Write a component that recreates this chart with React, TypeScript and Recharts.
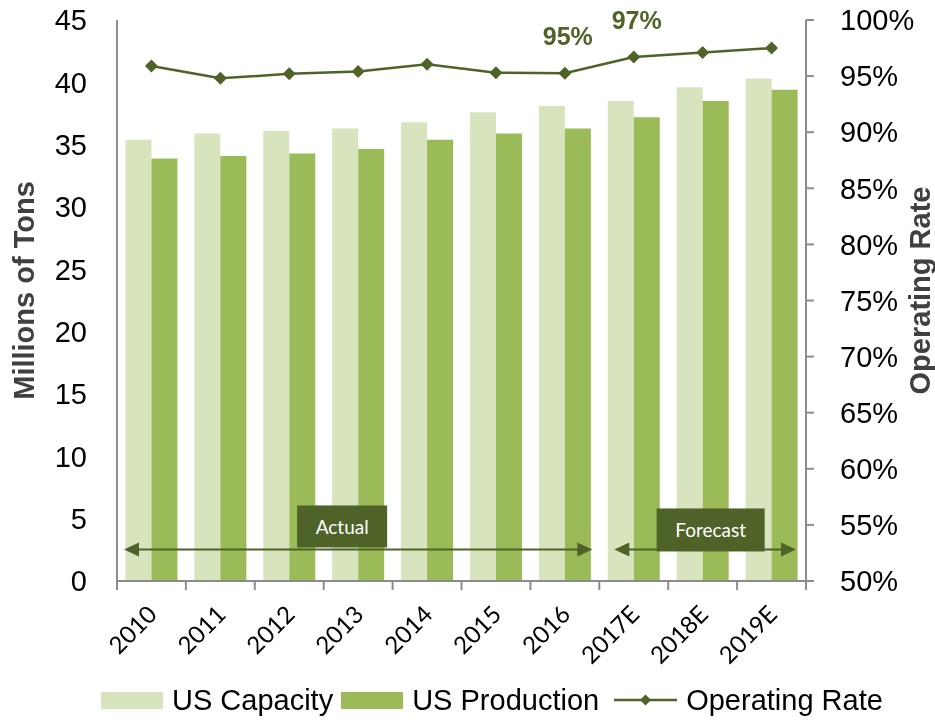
import React from 'react';
import {
  ComposedChart,
  Bar,
  Line,
  XAxis,
  YAxis,
  Legend,
  LabelList,
  ReferenceArea,
} from 'recharts';

const categories = ['2010', '2011', '2012', '2013', '2014', '2015', '2016', '2017E', '2018E', '2019E'];
const capacity = [35.4, 35.9, 36.1, 36.3, 36.8, 37.6, 38.1, 38.5, 39.6, 40.3];
const production = [33.9, 34.1, 34.3, 34.65, 35.4, 35.9, 36.3, 37.2, 38.5, 39.4];
const operatingRate = [95.9, 94.8, 95.2, 95.4, 96.05, 95.3, 95.25, 96.7, 97.1, 97.5];
const labeledYears = ['2016', '2017E'];
const leftTicks = [0, 5, 10, 15, 20, 25, 30, 35, 40, 45];
const rightTicks = [50, 55, 60, 65, 70, 75, 80, 85, 90, 95, 100];
const periods = [
  { label: 'Actual', from: '2010', to: '2016' },
  { label: 'Forecast', from: '2017E', to: '2019E' },
];
const arrowLevel = 2.53;

const data = categories.map((year, i) => ({
  year,
  capacity: capacity[i],
  production: production[i],
  rate: operatingRate[i],
}));

const CHART_W = 935;
const CHART_H = 720;
const LEFT_W = 117;
const RIGHT_W = 129;
const BAND = (CHART_W - LEFT_W - RIGHT_W) / categories.length;

const LIGHT = '#d7e4bd';
const MID = '#9bbb59';
const DARK = '#4f6228';
const AXIS = '#8c8c8c';
const FONT = '"Liberation Sans", Arial, sans-serif';

const periodStyle: Record<string, { insetL: number; insetR: number; boxDx: number; boxW: number; boxTop: number; boxBottom: number }> = {
  Actual: { insetL: 7, insetR: 7, boxDx: -16, boxW: 90, boxTop: -44, boxBottom: -2 },
  Forecast: { insetL: 15, insetR: 10, boxDx: 8, boxW: 108, boxTop: -41, boxBottom: 2 },
};

const XTick = (props: any) => {
  const { x, y, payload, index } = props;
  const half = BAND / 2;
  const tx = x + 7;
  const ty = y + 35;
  return (
    <g>
      <line x1={x - half} y1={y} x2={x - half} y2={y + 9} stroke={AXIS} strokeWidth={2} />
      {index === categories.length - 1 && (
        <line x1={x + half} y1={y} x2={x + half} y2={y + 9} stroke={AXIS} strokeWidth={2} />
      )}
      <text
        x={tx}
        y={ty}
        textAnchor="end"
        transform={`rotate(-45 ${tx} ${ty})`}
        fontFamily="Lato, sans-serif"
        fontSize={24}
        fill="#000"
      >
        {payload.value}
      </text>
    </g>
  );
};

const AxisTitle = (props: any) => {
  const { viewBox, side, text } = props;
  const { x, y, height } = viewBox;
  const cx = side === 'left' ? x + 24 : x + 114;
  const cy = y + height / 2 - 10;
  return (
    <text
      x={cx}
      y={cy}
      transform={`rotate(-90 ${cx} ${cy})`}
      textAnchor="middle"
      dominantBaseline="central"
      fontFamily={FONT}
      fontWeight="bold"
      fontSize={29}
      fill="#404040"
    >
      {text}
    </text>
  );
};

const Diamond = (props: any) => {
  const { cx, cy } = props;
  if (cx == null || cy == null) return null;
  const r = 6.5;
  return (
    <polygon
      points={`${cx},${cy - r} ${cx + r},${cy} ${cx},${cy + r} ${cx - r},${cy}`}
      fill={DARK}
    />
  );
};

const RateLabel = (props: any) => {
  const { x, y, value, index } = props;
  if (!labeledYears.includes(categories[index])) return null;
  return (
    <text x={x + 3} y={y - 28} textAnchor="middle" fontFamily={FONT} fontWeight="bold" fontSize={25} fill={DARK}>
      {`${Math.round(value)}%`}
    </text>
  );
};

const PeriodShape = (label: string) => (props: any) => {
  const { x, y, width } = props;
  const s = periodStyle[label];
  const left = x + s.insetL;
  const right = x + width - s.insetR;
  const ay = y + props.height;
  const head = 15;
  const hh = 7;
  const cx = x + width / 2 + s.boxDx;
  const top = ay + s.boxTop;
  const bottom = ay + s.boxBottom;
  return (
    <g>
      <line x1={left + head - 2} y1={ay} x2={right - head + 2} y2={ay} stroke={DARK} strokeWidth={2} />
      <polygon points={`${left},${ay} ${left + head},${ay - hh} ${left + head},${ay + hh}`} fill={DARK} />
      <polygon points={`${right},${ay} ${right - head},${ay - hh} ${right - head},${ay + hh}`} fill={DARK} />
      <rect x={cx - s.boxW / 2} y={top} width={s.boxW} height={bottom - top} fill={DARK} />
      <text
        x={cx}
        y={(top + bottom) / 2}
        textAnchor="middle"
        dominantBaseline="central"
        fontFamily="Lato, sans-serif"
        fontSize={19}
        fill="#fff"
      >
        {label}
      </text>
    </g>
  );
};

const legendItems = [
  { name: 'US Capacity', color: LIGHT, kind: 'bar', gap: 8 },
  { name: 'US Production', color: MID, kind: 'bar', gap: 15 },
  { name: 'Operating Rate', color: DARK, kind: 'line', gap: 0 },
];

const LegendContent = () => (
  <div style={{ display: 'flex', alignItems: 'center', fontFamily: FONT, fontSize: 29, color: '#000', height: 34 }}>
    {legendItems.map((item) => (
      <div key={item.name} style={{ display: 'flex', alignItems: 'center', marginRight: item.gap }}>
        {item.kind === 'bar' ? (
          <span style={{ display: 'inline-block', width: 62, height: 17, background: item.color }} />
        ) : (
          <svg width={63} height={20}>
            <line x1={0} y1={10} x2={63} y2={10} stroke={item.color} strokeWidth={2.5} />
            <polygon points="31.5,4.5 37,10 31.5,15.5 26,10" fill={item.color} />
          </svg>
        )}
        <span style={{ marginLeft: 9, whiteSpace: 'nowrap' }}>{item.name}</span>
      </div>
    ))}
  </div>
);

export default function App() {
  return (
    <div style={{ position: 'fixed', top: 0, left: 0, width: CHART_W, height: CHART_H }}>
      <ComposedChart
        width={CHART_W}
        height={CHART_H}
        data={data}
        margin={{ top: 20, right: 0, bottom: 59, left: 0 }}
        barGap={0}
        barCategoryGap="12.3%"
      >
        <XAxis
          dataKey="year"
          height={80}
          axisLine={{ stroke: AXIS, strokeWidth: 2 }}
          tickLine={false}
          tickSize={0}
          tickMargin={0}
          interval={0}
          tick={<XTick />}
        />
        <YAxis
          yAxisId="left"
          width={LEFT_W}
          domain={[0, 45]}
          ticks={leftTicks}
          interval={0}
          axisLine={{ stroke: AXIS, strokeWidth: 2 }}
          tickLine={false}
          tickSize={0}
          tickMargin={30}
          tick={{ fontFamily: FONT, fontSize: 29, fill: '#000' }}
          label={<AxisTitle side="left" text="Millions of Tons" />}
        />
        <YAxis
          yAxisId="right"
          orientation="right"
          width={RIGHT_W}
          domain={[50, 100]}
          ticks={rightTicks}
          interval={0}
          axisLine={{ stroke: AXIS, strokeWidth: 2 }}
          tickLine={{ stroke: AXIS, strokeWidth: 2 }}
          tickSize={8}
          tickMargin={26}
          tickFormatter={(v: number) => `${v}%`}
          tick={{ fontFamily: FONT, fontSize: 29, fill: '#000' }}
          label={<AxisTitle side="right" text="Operating Rate" />}
        />
        <Bar yAxisId="left" dataKey="capacity" name="US Capacity" fill={LIGHT} isAnimationActive={false} />
        <Bar yAxisId="left" dataKey="production" name="US Production" fill={MID} isAnimationActive={false} />
        <Line
          yAxisId="right"
          dataKey="rate"
          name="Operating Rate"
          type="linear"
          stroke={DARK}
          strokeWidth={2.5}
          dot={<Diamond />}
          activeDot={false}
          isAnimationActive={false}
        >
          <LabelList dataKey="rate" content={<RateLabel />} />
        </Line>
        {periods.map((p) => (
          <ReferenceArea
            key={p.label}
            yAxisId="left"
            x1={p.from}
            x2={p.to}
            y1={arrowLevel}
            y2={arrowLevel + 0.1}
            ifOverflow="visible"
            zIndex={1500}
            shape={PeriodShape(p.label)}
          />
        ))}
        <Legend
          layout="horizontal"
          verticalAlign="middle"
          align="center"
          wrapperStyle={{ top: 683, left: 101, width: 834 }}
          content={<LegendContent />}
        />
      </ComposedChart>
    </div>
  );
}
